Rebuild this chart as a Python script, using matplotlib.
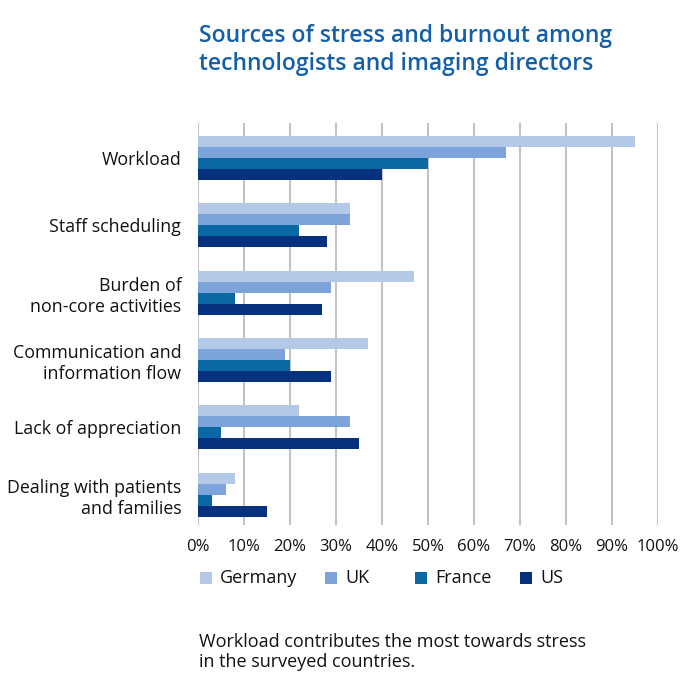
import matplotlib
matplotlib.use("Agg")
import matplotlib.pyplot as plt
import numpy as np
from matplotlib.patches import Rectangle

categories = ["Workload", "Staff scheduling", "Burden of\nnon-core activities",
              "Communication and\ninformation flow", "Lack of appreciation",
              "Dealing with patients\nand families"]
series = ["Germany", "UK", "France", "US"]
germany = [95, 33, 47, 37, 22, 8]
uk = [67, 33, 29, 19, 33, 6]
france = [50, 22, 8, 20, 5, 3]
us = [40, 28, 27, 29, 35, 15]
ticks = [0, 10, 20, 30, 40, 50, 60, 70, 80, 90, 100]
tick_labels = [f"{t}%" for t in ticks]

colors = ["#b4c8e8", "#7ca4da", "#0a68a4", "#05317f"]
values = [germany, uk, france, us]

plt.rcParams['font.family'] = ['Open Sans', 'DejaVu Sans']
W, H = 700, 686
fig = plt.figure(figsize=(W/100, H/100), dpi=100)
left, right, top, bottom = 198, 658, 123, 525
ax = fig.add_axes([left/W, 1-bottom/H, (right-left)/W, (bottom-top)/H])

y = np.arange(len(categories))
bh = 0.163
for i, (s, v, c) in enumerate(zip(series, values, colors)):
    ax.barh(y + (i-1.5)*bh, v, height=bh, color=c, label=s, zorder=3)

ax.set_xlim(0, 100)
ax.set_ylim(5.45, -0.52)
ax.set_xticks(ticks)
ax.set_xticklabels(tick_labels, fontsize=12, color="#111111")
ax.set_yticks(y)
ax.set_yticklabels(categories, fontsize=12.8, color="#111111", linespacing=1.22)
ax.tick_params(axis='both', length=0)
ax.tick_params(axis='y', pad=12)
ax.tick_params(axis='x', pad=10)
for sp in ax.spines.values():
    sp.set_visible(False)
ax.grid(axis='x', color="#c3c3c3", linewidth=1.5, zorder=0)
ax.set_axisbelow(True)

fig.text(199/W, 1-50/H, "Sources of stress and burnout among\ntechnologists and imaging directors",
         fontsize=16.5, color="#1360a8", fontweight='semibold', va='center', ha='left',
         linespacing=1.2)

# legend, placed manually
sq_x = [200, 325, 415, 520]
for xs, s, c in zip(sq_x, series, colors):
    fig.patches.append(Rectangle((xs/W, 1-584/H), 12/W, 12/H, transform=fig.transFigure,
                                 facecolor=c, edgecolor='none'))
    fig.text((xs+20)/W, 1-578/H, s, fontsize=13, color="#111111", va='center', ha='left')

fig.text(199/W, 1-652/H, "Workload contributes the most towards stress\nin the surveyed countries.",
         fontsize=13, color="#111111", va='center', ha='left', linespacing=1.1)

fig.savefig("out.png", dpi=100, facecolor='white')
